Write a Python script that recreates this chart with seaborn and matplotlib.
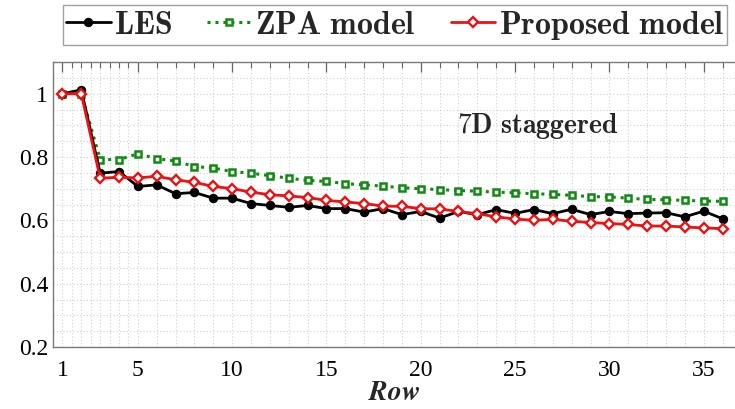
import numpy as np
import pandas as pd
import matplotlib
matplotlib.use("Agg")
import matplotlib.pyplot as plt
from matplotlib.ticker import FixedLocator
import seaborn as sns

# Normalised power per turbine row
rows = list(range(1, 37))
les = [1.000, 1.012, 0.749, 0.754, 0.707, 0.712, 0.684, 0.688, 0.670, 0.670,
       0.653, 0.647, 0.641, 0.647, 0.637, 0.637, 0.626, 0.637, 0.618, 0.628,
       0.607, 0.628, 0.618, 0.634, 0.622, 0.634, 0.621, 0.635, 0.618, 0.628,
       0.621, 0.623, 0.624, 0.611, 0.629, 0.605]
zpa = [1.000, 1.000, 0.792, 0.792, 0.810, 0.795, 0.787, 0.770, 0.765, 0.754,
       0.749, 0.741, 0.733, 0.726, 0.723, 0.716, 0.712, 0.708, 0.703, 0.700,
       0.697, 0.694, 0.692, 0.689, 0.687, 0.684, 0.682, 0.679, 0.675, 0.674,
       0.670, 0.666, 0.665, 0.663, 0.661, 0.660]
proposed = [1.000, 1.000, 0.733, 0.736, 0.734, 0.739, 0.728, 0.720, 0.707, 0.700,
            0.689, 0.681, 0.677, 0.672, 0.663, 0.658, 0.653, 0.645, 0.644, 0.637,
            0.636, 0.628, 0.621, 0.611, 0.604, 0.600, 0.603, 0.597, 0.593, 0.590,
            0.587, 0.582, 0.582, 0.579, 0.576, 0.574]

x_major = [1, 5, 10, 15, 20, 25, 30, 35]
y_major = [0.2, 0.4, 0.6, 0.8, 1.0]
y_labels = ["0.2", "0.4", "0.6", "0.8", "1"]

sns.set_style("white")
plt.rcParams["font.family"] = ["Liberation Serif", "DejaVu Serif"]
plt.rcParams["mathtext.fontset"] = "cm"

df = pd.DataFrame({"Row": rows, "LES": les, "ZPA": zpa, "Proposed": proposed})

fig = plt.figure(figsize=(7.35, 4.09), dpi=100)
ax = fig.add_axes([53 / 735, 62 / 409, 682 / 735, 285 / 409])

sns.lineplot(data=df, x="Row", y="LES", ax=ax, color="black", linewidth=2.0,
             marker="o", markersize=6, markerfacecolor="black",
             markeredgecolor="black", label=r"$\mathbf{LES}$", zorder=3)
sns.lineplot(data=df, x="Row", y="ZPA", ax=ax, color="#118a11", linewidth=2.2,
             linestyle=(0, (1, 1.6)), marker="s", markersize=5,
             markerfacecolor="white", markeredgecolor="#118a11",
             markeredgewidth=1.8, label=r"$\mathbf{ZPA\ model}$", zorder=2)
sns.lineplot(data=df, x="Row", y="Proposed", ax=ax, color="#ee1111", linewidth=2.0,
             marker="D", markersize=5.5, markerfacecolor="white",
             markeredgecolor="#ee1111", markeredgewidth=1.7,
             label=r"$\mathbf{Proposed\ model}$", zorder=4)

ax.set_xlim(0.5, 0.5 + 682 / 18.86)
ax.set_ylim(0.2, 1.1)

ax.xaxis.set_major_locator(FixedLocator(x_major))
x_minor = [v for v in np.arange(1.5, 5.0, 0.5)] + \
          [v for v in range(6, 37) if v not in x_major]
ax.xaxis.set_minor_locator(FixedLocator(x_minor))
ax.yaxis.set_major_locator(FixedLocator(y_major))
ax.yaxis.set_minor_locator(FixedLocator(
    [round(v, 2) for v in np.arange(0.25, 1.1, 0.05) if round(v, 2) not in y_major]))
ax.set_yticklabels(y_labels)

ax.tick_params(axis="both", which="both", direction="in", top=True, right=False,
               colors="#666666", labelcolor="black", labelsize=17)
ax.tick_params(which="major", length=7, width=0.9)
ax.tick_params(which="minor", length=4, width=0.8)
ax.tick_params(axis="x", pad=9)

ax.grid(True, which="both", linestyle=(0, (1, 2)), color="#cfcfcf", linewidth=0.8)
ax.set_axisbelow(True)

for side in ["left", "bottom", "top"]:
    ax.spines[side].set_color("#7a7a7a")
    ax.spines[side].set_linewidth(1.0)
ax.spines["right"].set_visible(False)

ax.set_ylabel("")
ax.set_xlabel(r"$\mathbfit{Row}$", fontsize=20, labelpad=0)

ax.text(26.2, 0.899, r"$\mathbf{7D\ staggered}$", fontsize=20,
        ha="center", va="center")

handles, labels = ax.get_legend_handles_labels()
ax.get_legend().remove()
leg = fig.legend(handles, labels, loc="center", ncol=3,
                 bbox_to_anchor=(395 / 735, 1 - 25 / 409),
                 fontsize=23, frameon=True, fancybox=False,
                 edgecolor="#8a8a8a", handlelength=1.4, handletextpad=0.1,
                 columnspacing=1.1, borderpad=0.1)
leg.get_frame().set_linewidth(1.0)

fig.savefig("out.png", dpi=100)
